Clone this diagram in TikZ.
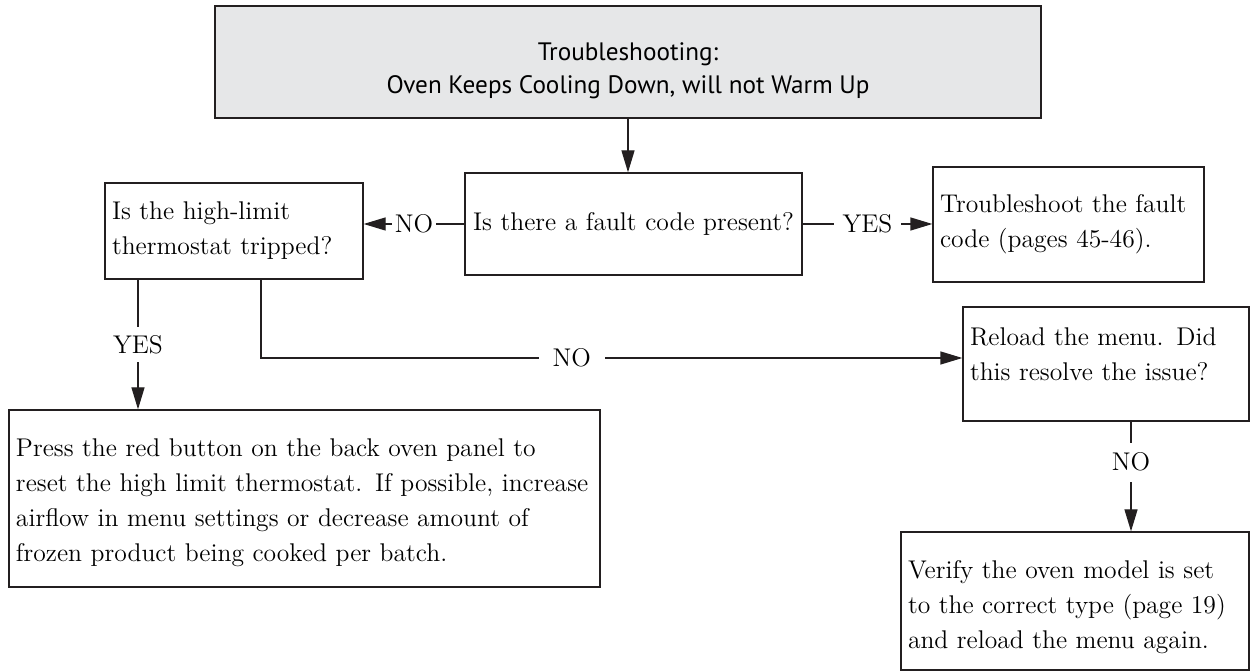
\documentclass[tikz,border=0pt]{standalone}
\usepackage{fontspec}
\newfontfamily\titlefont{PT Sans}
\usetikzlibrary{arrows.meta}
\definecolor{ln}{HTML}{231F20}
\definecolor{titlegray}{HTML}{E6E7E8}
\newcommand{\bodyfont}{\fontsize{12.8}{17.5}\selectfont}
\begin{document}
\begin{tikzpicture}[x=0.5pt,y=-0.5pt,
  box/.style={draw=ln, line width=0.65pt, inner xsep=3.5pt, inner ysep=0pt,
    align=left, font=\bodyfont, text=black},
  titlebox/.style={draw=ln, line width=1pt, fill=titlegray, align=center,
    font=\titlefont\fontsize{12.6}{16.5}\selectfont, text=black,
    minimum width=413pt, minimum height=56pt, inner sep=0pt},
  arr/.style={draw=ln, line width=0.65pt, -{Triangle[length=11pt,width=6.5pt]}},
  lbl/.style={fill=white, font=\bodyfont, text=black, inner xsep=4.5pt, inner ysep=3pt}
]
\useasboundingbox (0,0) rectangle (1251,672);

\node[titlebox] (title) at (628,62) {\rule{0pt}{18pt}Troubleshooting:\\Oven Keeps Cooling Down, will not Warm Up};

\node[box, align=center, text width=161.5pt, minimum height=51pt] (fault) at (633.5,224)
  {Is there a fault code present?};

\node[box, text width=122pt, minimum height=48pt] (hl) at (234,231)
  {\mbox{Is the high-limit}\\\mbox{thermostat tripped?}};

\node[box, text width=128.5pt, minimum height=57.5pt] (trouble) at (1068.5,224.5)
  {\mbox{Troubleshoot the fault}\\\mbox{code (pages 45-46).}};

\node[box, text width=136pt, minimum height=57pt] (reload) at (1106,364)
  {\mbox{Reload the menu. Did}\\\mbox{this resolve the issue?}\rule[-10pt]{0pt}{10pt}};

\node[box, text width=288.5pt, minimum height=88.5pt] (press) at (304.5,498.5)
  {\rule{0pt}{13pt}\mbox{Press the red button on the back oven panel to}\\
   \mbox{reset the high limit thermostat. If possible, increase}\\
   \mbox{airflow in menu settings or decrease amount of}\\
   \mbox{frozen product being cooked per batch.}};

\node[box, text width=167pt, minimum height=69pt] (verify) at (1075,601)
  {\rule{0pt}{15pt}\mbox{Verify the oven model is set}\\
   \mbox{to the correct type (page 19)}\\
   \mbox{and reload the menu again.}};

\draw[arr] (title.south) -- (title.south |- fault.north);
\draw[arr] (fault.west) -- node[lbl, inner xsep=1.5pt]{NO} (fault.west -| hl.east);
\draw[arr] (fault.east) -- node[lbl]{YES} (fault.east -| trouble.west);

\coordinate (hy) at (138,0);
\draw[arr] (hl.south -| hy) -- node[lbl, inner xsep=1pt, inner ysep=4pt]{YES} (press.north -| hy);

\coordinate (k) at (261,358);
\draw[arr] (hl.south -| k) -- (k) -- node[lbl, pos=0.443, inner xsep=7pt]{NO} (k -| reload.west);

\coordinate (rv) at (1131,0);
\draw[arr] (reload.south -| rv) -- node[lbl, pos=0.37, inner xsep=1pt, inner ysep=5pt]{NO} (verify.north -| rv);
\end{tikzpicture}
\end{document}
